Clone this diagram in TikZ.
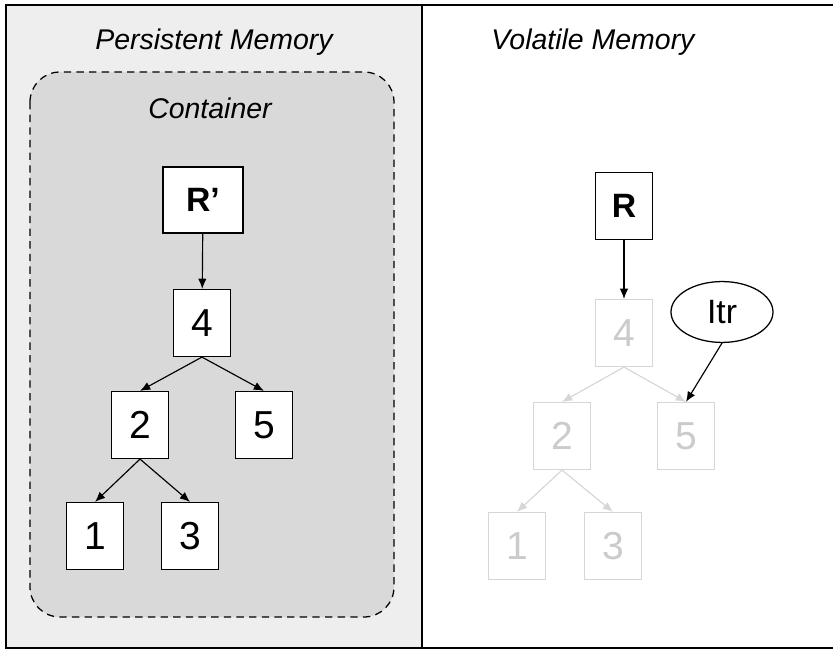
\documentclass[tikz,border=0pt]{standalone}
\usepackage{fontspec}
\setmainfont{Liberation Sans}
\usetikzlibrary{shapes.geometric,arrows.meta}
\definecolor{panelgray}{HTML}{EEEEEE}
\definecolor{boxgray}{HTML}{D9D9D9}
\definecolor{fadegray}{HTML}{D6D6D6}
\begin{document}
\begin{tikzpicture}[
        treebox/.style={rectangle, draw=black, fill=white, line width=1.2pt,
          minimum width=1.9cm, minimum height=2.23cm, inner sep=0pt,
          font=\fontsize{37}{40}\selectfont},
        fadedbox/.style={treebox, draw=fadegray, text=fadegray!95!black},
        rootbox/.style={treebox, font=\fontsize{32}{36}\selectfont\bfseries},
        iterator/.style={ellipse, draw=black, fill=white, line width=1.2pt,
          minimum width=3.4cm, minimum height=2.03cm, inner sep=0pt,
          font=\fontsize{32}{36}\selectfont},
        heading/.style={font=\fontsize{27}{30}\selectfont\itshape},
        link/.style={-{Latex[length=3.4mm,width=2.8mm]}, line width=1.1pt},
        fadedlink/.style={link, draw=fadegray}
      ]
      \useasboundingbox (0,0) rectangle (27.767,-21.667);
      \clip (0,0) rectangle (27.767,-21.667);

      % memory panels
      \fill[panelgray] (0.2,-0.167) rectangle (14.067,-21.6);
      \draw[line width=1.4pt] (0.2,-0.167) rectangle (28.2,-21.6);
      \draw[line width=1.4pt] (14.067,-0.167) -- (14.067,-21.6);
      \draw[line width=1.2pt, fill=boxgray, rounded corners=1cm,
        dash pattern=on 7pt off 5pt] (1.0,-2.4) rectangle (13.133,-20.567);

      \node[heading] (persistent) at (7.133,-1.4) {Persistent Memory};
      \node[heading] (volatile) at (19.767,-1.4) {Volatile Memory};
      \node[heading] (container) at (7.0,-3.6) {Container};

      % tree kept in the container
      \node[rootbox, minimum width=2.67cm, minimum height=2.2cm] (rootp) at (6.767,-6.667) {R'};
      \node[treebox] (p4) at (6.733,-10.767) {4};
      \node[treebox] (p2) at (4.667,-14.167) {2};
      \node[treebox] (p5) at (8.8,-14.167) {5};
      \node[treebox] (p1) at (3.167,-17.867) {1};
      \node[treebox] (p3) at (6.333,-17.867) {3};

      \draw[link] (rootp) -- (p4);
      \draw[link] (p4.south) -- (p2.north);
      \draw[link] (p4.south) -- (p5.north);
      \draw[link] (p2.south) -- (p1.north);
      \draw[link] (p2.south) -- (p3.north);

      % volatile copy
      \node[fadedbox] (v4) at (20.8,-11.1) {4};
      \node[fadedbox] (v2) at (18.733,-14.533) {2};
      \node[fadedbox] (v5) at (22.867,-14.533) {5};
      \node[fadedbox] (v1) at (17.233,-18.2) {1};
      \node[fadedbox] (v3) at (20.433,-18.2) {3};

      \draw[fadedlink] (v4.south) -- (v2.north);
      \draw[fadedlink] (v4.south) -- (v5.north);
      \draw[fadedlink] (v2.south) -- (v1.north);
      \draw[fadedlink] (v2.south) -- (v3.north);

      \node[rootbox] (root) at (20.8,-6.867) {R};
      \node[iterator] (itr) at (24.067,-10.4) {Itr};

      \draw[link] (root) -- (v4);
      \draw[link] (itr.south) -- (v5.north);
    \end{tikzpicture}
\end{document}
